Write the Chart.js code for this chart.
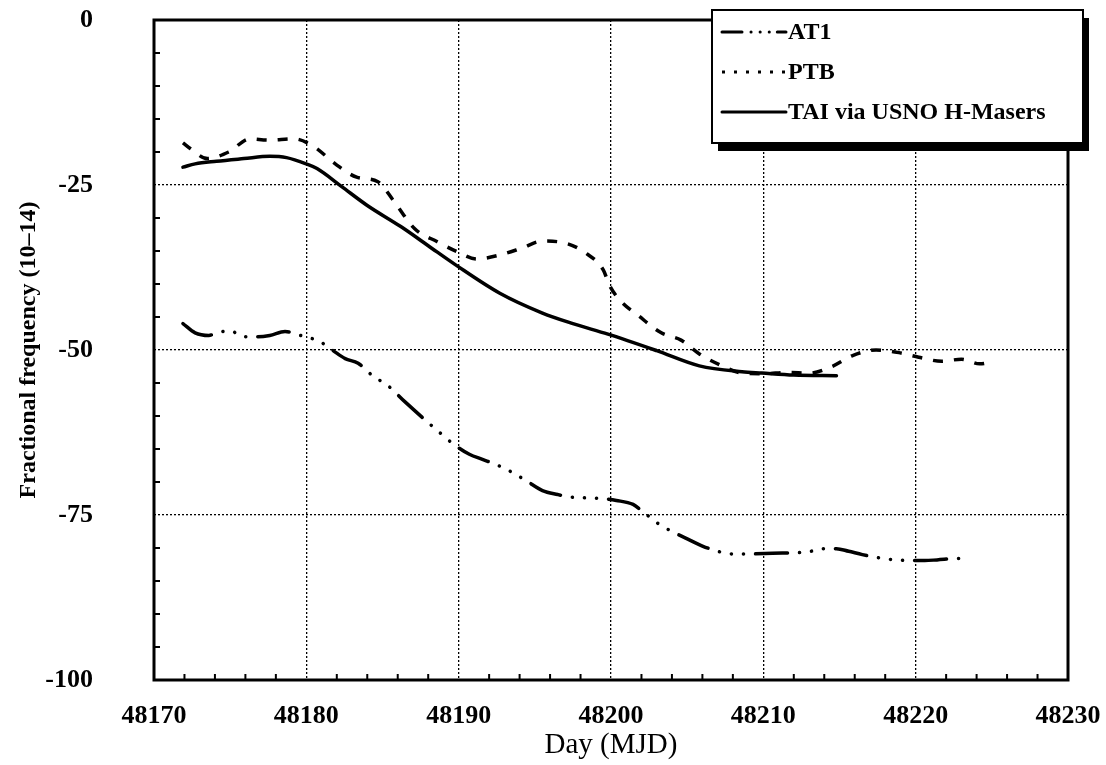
<!DOCTYPE html>
<html>
<head>
<meta charset="utf-8">
<title>Fractional frequency</title>
<script src="https://cdn.jsdelivr.net/npm/chart.js@4.4.0/dist/chart.umd.min.js"></script>
<style>
  html, body { margin: 0; padding: 0; background: #fff; }
  #wrap { width: 1106px; height: 765px; }
</style>
</head>
<body>
<div id="wrap"><canvas id="freqChart" width="1106" height="765"></canvas></div>
<script>
// values: day (MJD) and fractional frequency (1e-14)
const at1Days = [48171.9, 48172.7, 48173.6, 48174.1, 48175.0, 48175.9, 48176.8, 48177.6, 48178.6, 48179.9,
  48180.8, 48181.7, 48182.55, 48183.4, 48184.4, 48185.3, 48186.5, 48187.9, 48188.8, 48189.8,
  48190.7, 48191.6, 48192.5, 48193.4, 48194.5, 48195.5, 48196.5, 48197.4, 48198.3, 48199.3,
  48200.35, 48201.45, 48202.2, 48203.1, 48204.0, 48204.9, 48206.0, 48207.0, 48208.0, 48209.0,
  48210.6, 48212.9, 48213.9, 48214.8, 48215.6, 48216.5, 48217.6, 48218.7, 48219.8, 48220.6,
  48221.4, 48222.7, 48223.2];
const at1Values = [-46.0, -47.4, -47.8, -47.4, -47.1, -48.0, -48.0, -47.8, -47.2, -48.0,
  -48.6, -50.0, -51.3, -52.0, -54.0, -55.3, -57.9, -60.8, -62.6, -64.5,
  -65.8, -66.6, -67.4, -68.4, -69.9, -71.3, -71.9, -72.3, -72.4, -72.5,
  -72.8, -73.4, -74.7, -76.3, -77.5, -78.5, -79.7, -80.5, -80.9, -80.9,
  -80.8, -80.6, -80.1, -80.1, -80.5, -81.0, -81.5, -81.8, -81.9, -81.9,
  -81.8, -81.6, -81.6];

const ptbDays = [48171.9, 48172.4, 48173.5, 48174.9, 48176.3, 48177.5, 48179.2, 48180.5, 48181.9, 48183.3,
  48184.7, 48185.7, 48187.1, 48188.6, 48189.9, 48191.2, 48192.7, 48194.1, 48195.5, 48197.0,
  48198.4, 48199.5, 48199.9, 48200.6, 48201.8, 48203.3, 48204.6, 48205.8, 48207.2, 48208.6,
  48210.0, 48211.6, 48213.0, 48214.5, 48215.9, 48217.4, 48218.9, 48220.2, 48221.7, 48223.0,
  48224.2, 48225.2];
const ptbValues = [-18.6, -19.5, -21.0, -20.0, -18.0, -18.2, -18.0, -19.2, -21.8, -23.8,
  -24.5, -27.3, -31.6, -33.6, -35.1, -36.2, -35.6, -34.6, -33.5, -33.8,
  -35.4, -37.9, -40.2, -42.5, -44.8, -47.4, -48.5, -50.6, -52.3, -53.5,
  -53.6, -53.4, -53.5, -52.5, -50.8, -50.0, -50.4, -51.1, -51.7, -51.4,
  -52.1, -51.7];

const taiDays = [48171.9, 48172.7, 48174.1, 48175.9, 48177.6, 48178.7, 48180.0, 48180.7, 48182.3, 48184.0,
  48186.2, 48188.0, 48189.8, 48192.7, 48195.5, 48197.5, 48199.8, 48203.0, 48205.8, 48208.6,
  48209.9, 48212.0, 48214.8];
const taiValues = [-22.3, -21.8, -21.4, -21.0, -20.65, -20.85, -21.8, -22.5, -25.2, -28.1,
  -31.3, -34.2, -37.1, -41.4, -44.4, -46.0, -47.6, -50.1, -52.4, -53.3,
  -53.5, -53.8, -53.9];

const seriesNames = ['AT1', 'PTB', 'TAI via USNO H-Masers'];
const xLabelDays = [48170, 48180, 48190, 48200, 48210, 48220, 48230];
const yLabelValues = [0, -25, -50, -75, -100];

function toPoints(days, values) {
  return days.map((d, i) => ({ x: d, y: values[i] }));
}

// minor ticks inside the frame + heavy box round the plot area
const frameAndTicks = {
  id: 'frameAndTicks',
  afterDatasetsDraw(chart) {
    const { ctx, chartArea: a, scales: { x, y } } = chart;
    ctx.save();
    ctx.strokeStyle = '#000';
    ctx.lineWidth = 2;
    ctx.beginPath();
    x.ticks.forEach(t => {
      if (xLabelDays.includes(t.value)) return;
      const px = x.getPixelForValue(t.value);
      ctx.moveTo(px, a.bottom);
      ctx.lineTo(px, a.bottom - 6);
    });
    y.ticks.forEach(t => {
      if (yLabelValues.includes(t.value)) return;
      const py = y.getPixelForValue(t.value);
      ctx.moveTo(a.left, py);
      ctx.lineTo(a.left + 6, py);
    });
    ctx.stroke();
    ctx.lineWidth = 3;
    ctx.strokeRect(a.left, a.top, a.right - a.left, a.bottom - a.top);
    ctx.restore();
  }
};

// boxed legend with drop shadow, top right
const boxLegend = {
  id: 'boxLegend',
  afterDraw(chart) {
    const ctx = chart.ctx;
    const left = 712, top = 10, w = 371, h = 133;
    ctx.save();
    ctx.fillStyle = '#000';
    ctx.fillRect(left + 6, top + 8, w, h);
    ctx.fillStyle = '#fff';
    ctx.fillRect(left, top, w, h);
    ctx.strokeStyle = '#000';
    ctx.lineWidth = 2;
    ctx.strokeRect(left, top, w, h);

    ctx.font = 'bold 24px "Liberation Serif", "DejaVu Serif", serif';
    ctx.textBaseline = 'middle';
    ctx.fillStyle = '#000';
    chart.data.datasets.forEach((ds, i) => {
      const rowY = top + 22 + i * 40;
      ctx.save();
      ctx.lineWidth = 3;
      ctx.lineCap = ds.borderCapStyle || 'butt';
      ctx.setLineDash(ds.legendDash || ds.borderDash || []);
      ctx.beginPath();
      ctx.moveTo(left + 10, rowY);
      ctx.lineTo(left + 74, rowY);
      ctx.stroke();
      ctx.restore();
      ctx.fillText(ds.label, left + 76, rowY + 1);
    });
    ctx.restore();
  }
};

const tickFont = { family: '"Liberation Serif", "DejaVu Serif", serif', size: 26, weight: 'bold' };
const clear = 'rgba(0,0,0,0)';

new Chart(document.getElementById('freqChart'), {
  type: 'line',
  data: {
    datasets: [
      {
        label: seriesNames[0],
        data: toPoints(at1Days, at1Values),
        borderColor: '#000',
        borderWidth: 3.5,
        borderDash: [32, 12, 0.1, 12, 0.1, 12, 0.1, 12],
        legendDash: [20, 9, 0.1, 9, 0.1, 9, 0.1, 8],
        borderCapStyle: 'round',
        cubicInterpolationMode: 'monotone',
        pointRadius: 0,
        fill: false
      },
      {
        label: seriesNames[1],
        data: toPoints(ptbDays, ptbValues),
        borderColor: '#000',
        borderWidth: 3.5,
        borderDash: [10, 11],
        legendDash: [3, 9],
        borderCapStyle: 'butt',
        cubicInterpolationMode: 'monotone',
        pointRadius: 0,
        fill: false
      },
      {
        label: seriesNames[2],
        data: toPoints(taiDays, taiValues),
        borderColor: '#000',
        borderWidth: 3.5,
        borderCapStyle: 'round',
        cubicInterpolationMode: 'monotone',
        pointRadius: 0,
        fill: false
      }
    ]
  },
  options: {
    responsive: false,
    animation: false,
    events: [],
    layout: { padding: { left: 0, top: 20, right: 38, bottom: 0 } },
    plugins: {
      legend: { display: false },
      tooltip: { enabled: false }
    },
    scales: {
      x: {
        type: 'linear',
        min: 48170,
        max: 48230,
        afterFit: scale => { scale.height = 85; },
        ticks: {
          stepSize: 2,
          autoSkip: false,
          maxRotation: 0,
          padding: 0,
          color: '#000',
          font: tickFont,
          callback: v => (xLabelDays.includes(v) ? String(v) : '')
        },
        grid: {
          drawTicks: true,
          tickLength: 21,
          tickColor: clear,
          lineWidth: 1.3,
          color: c => (xLabelDays.includes(c.tick && c.tick.value) ? '#000' : clear)
        },
        border: { display: false, dash: [2, 2] },
        title: {
          display: true,
          text: 'Day (MJD)',
          color: '#000',
          font: { family: '"Liberation Serif", "DejaVu Serif", serif', size: 29 },
          padding: { top: 0, bottom: 2 }
        }
      },
      y: {
        min: -100,
        max: 0,
        afterFit: scale => { scale.width = 154; },
        ticks: {
          stepSize: 5,
          autoSkip: false,
          padding: 0,
          color: '#000',
          font: tickFont,
          callback: v => (yLabelValues.includes(v) ? String(v) : '')
        },
        grid: {
          drawTicks: true,
          tickLength: 61,
          tickColor: clear,
          lineWidth: 1.3,
          color: c => (yLabelValues.includes(c.tick && c.tick.value) ? '#000' : clear)
        },
        border: { display: false, dash: [2, 2] },
        title: {
          display: true,
          text: 'Fractional frequency (10–14)',
          color: '#000',
          font: { family: '"Liberation Serif", "DejaVu Serif", serif', size: 24, weight: 'bold' },
          padding: { top: 14, bottom: 0 }
        }
      }
    }
  },
  plugins: [frameAndTicks, boxLegend]
});
</script>
</body>
</html>
